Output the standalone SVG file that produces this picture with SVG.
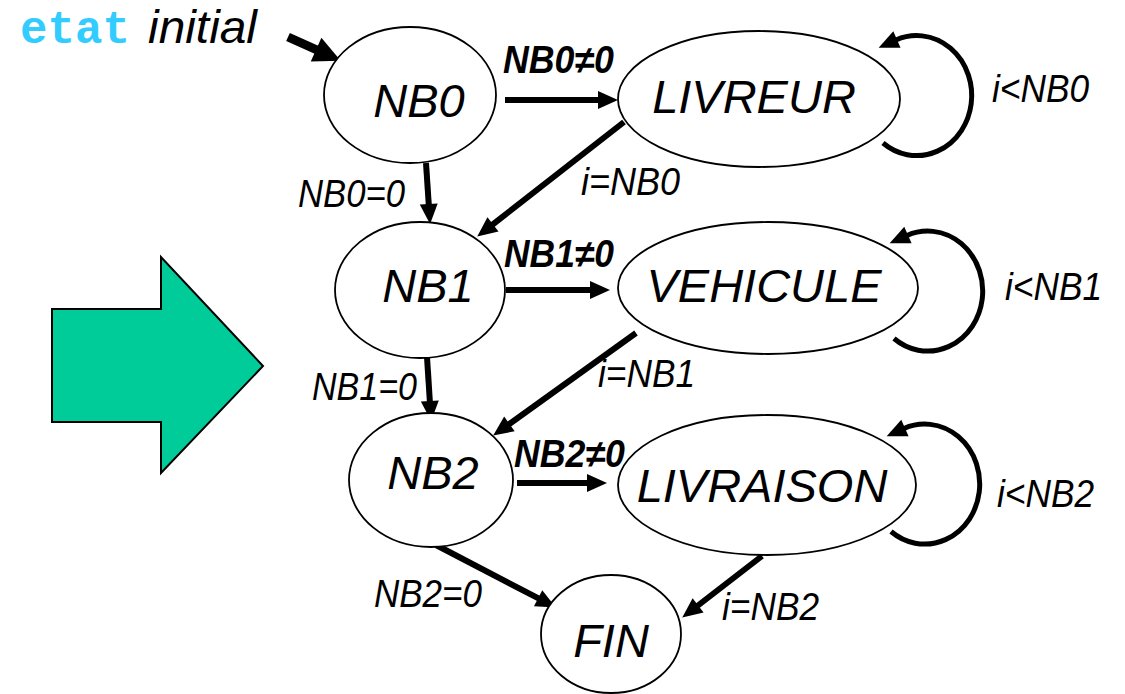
<svg xmlns="http://www.w3.org/2000/svg" width="1125" height="694" viewBox="0 0 1125 694">
<defs>
<marker id="ah" markerUnits="userSpaceOnUse" viewBox="-1 -10 22 20" markerWidth="22" markerHeight="20" refX="0" refY="0" orient="auto" overflow="visible">
<path d="M-1,-9 L19,0 L-1,9 z" fill="#000"/>
</marker>
<marker id="ahBig" markerUnits="userSpaceOnUse" viewBox="-1 -14 30 28" markerWidth="30" markerHeight="28" refX="0" refY="0" orient="auto" overflow="visible">
<path d="M-1,-13 L26,0 L-1,13 z" fill="#000"/>
</marker>
<style>
.node ellipse{fill:#fff;stroke:#000;stroke-width:1.8}
.node text{font-family:"Liberation Sans",Arial,sans-serif;font-style:italic;font-size:47px;text-anchor:middle;fill:#000}
.edge{fill:none;stroke:#000;stroke-width:6;marker-end:url(#ah)}
.loop{fill:none;stroke:#000;stroke-width:5;marker-end:url(#ah)}
.lbl{font-family:"Liberation Sans",Arial,sans-serif;font-style:italic;font-size:38px;fill:#000}
.b{font-weight:bold}
</style>
</defs>
<rect width="1125" height="694" fill="#fff"/>
<g id="title">
<text x="20" y="43" font-family="'Liberation Mono','Courier New',monospace" font-weight="bold" font-size="46" fill="#33CCFF" textLength="110" lengthAdjust="spacingAndGlyphs">etat</text>
<text x="148" y="43" font-family="'Liberation Sans',Arial,sans-serif" font-style="italic" font-size="46" fill="#000" textLength="109" lengthAdjust="spacingAndGlyphs">initial</text>
</g>
<g id="bigArrow">
<polygon points="52,309 161,309 161,257 263,366 161,473 161,422 52,422" fill="#00CC99" stroke="#000" stroke-width="2"/>
</g>
<g id="connectors">
<path d="M288,37 L317,50" fill="none" stroke="#000" stroke-width="9" marker-end="url(#ahBig)"/>
<path class="edge" d="M505,100 L599,100"/>
<path class="edge" d="M426,163 L428.8,205"/>
<path class="edge" d="M624,122 L492.2,224.9"/>
<path class="edge" d="M506,290 L591,290"/>
<path class="edge" d="M427,357 L429.9,402"/>
<path class="edge" d="M636,333 L508.6,424.5"/>
<path class="edge" d="M517,483 L588,483"/>
<path class="edge" d="M436,545 L539,598.7"/>
<path class="edge" d="M762,556 L697.3,606"/>
<path class="loop" d="M883,143 A55,60 0 1 0 896,40"/>
<path class="loop" d="M894,338.5 A55,60 0 1 0 907,235.5"/>
<path class="loop" d="M891,531.5 A55,60 0 1 0 904,428.5"/>
</g>
<g id="labels">
<text class="lbl b" x="503" y="73" textLength="111" lengthAdjust="spacingAndGlyphs">NB0≠0</text>
<text class="lbl" x="298" y="207" textLength="107" lengthAdjust="spacingAndGlyphs">NB0=0</text>
<text class="lbl" x="581" y="195" textLength="99" lengthAdjust="spacingAndGlyphs">i=NB0</text>
<text class="lbl" x="992" y="102" textLength="97" lengthAdjust="spacingAndGlyphs">i&lt;NB0</text>
<text class="lbl b" x="504" y="267" textLength="110" lengthAdjust="spacingAndGlyphs">NB1≠0</text>
<text class="lbl" x="312" y="400" textLength="105" lengthAdjust="spacingAndGlyphs">NB1=0</text>
<text class="lbl" x="598" y="387" textLength="97" lengthAdjust="spacingAndGlyphs">i=NB1</text>
<text class="lbl" x="1005" y="300" textLength="97" lengthAdjust="spacingAndGlyphs">i&lt;NB1</text>
<text class="lbl b" x="514" y="467" textLength="111" lengthAdjust="spacingAndGlyphs">NB2≠0</text>
<text class="lbl" x="374" y="607" textLength="108" lengthAdjust="spacingAndGlyphs">NB2=0</text>
<text class="lbl" x="722" y="620" textLength="97" lengthAdjust="spacingAndGlyphs">i=NB2</text>
<text class="lbl" x="997" y="507" textLength="97" lengthAdjust="spacingAndGlyphs">i&lt;NB2</text>
</g>
<g id="NB0" class="node"><ellipse cx="410" cy="95" rx="86" ry="68"/><text x="419" y="117">NB0</text></g>
<g id="LIVREUR" class="node"><ellipse cx="759" cy="99" rx="141" ry="68"/><text x="754" y="113">LIVREUR</text></g>
<g id="NB1" class="node"><ellipse cx="420" cy="290" rx="85" ry="68"/><text x="428" y="302">NB1</text></g>
<g id="VEHICULE" class="node"><ellipse cx="768" cy="288" rx="150" ry="66"/><text x="764" y="302">VEHICULE</text></g>
<g id="NB2" class="node"><ellipse cx="431" cy="480" rx="82" ry="67"/><text x="433" y="489">NB2</text></g>
<g id="LIVRAISON" class="node"><ellipse cx="767" cy="485" rx="149" ry="70"/><text x="762" y="502">LIVRAISON</text></g>
<g id="FIN" class="node"><ellipse cx="611" cy="634" rx="70" ry="59"/><text x="611" y="657">FIN</text></g>
</svg>
